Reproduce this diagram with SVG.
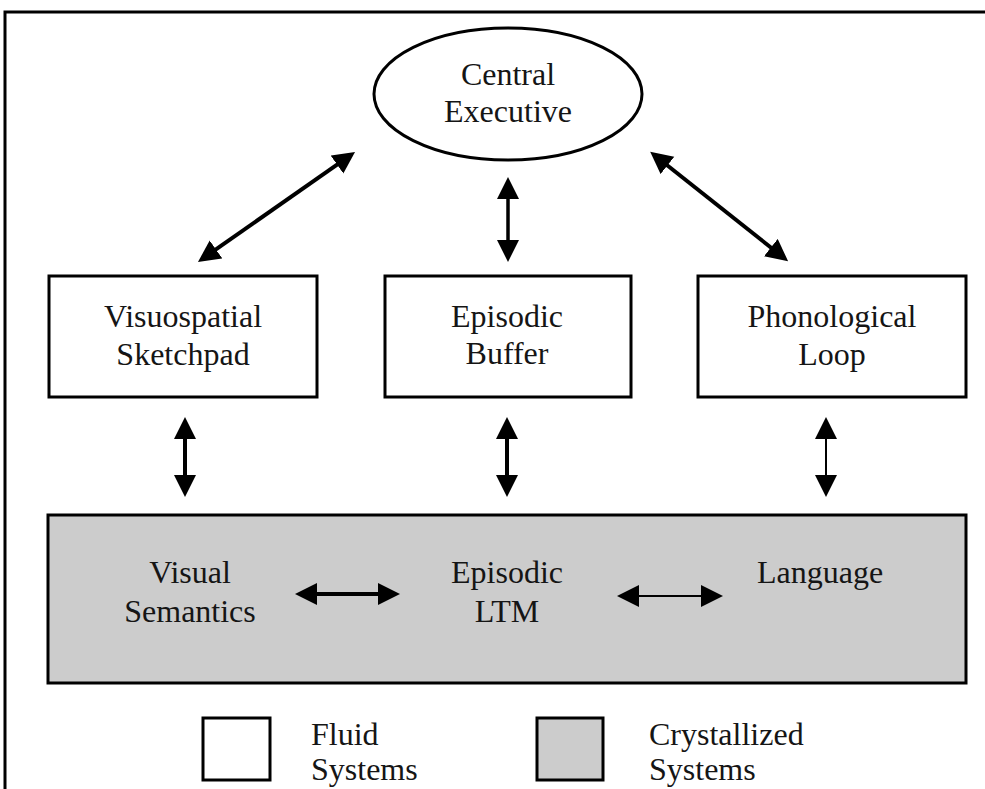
<svg xmlns="http://www.w3.org/2000/svg" width="985" height="789" viewBox="0 0 985 789">
<style>
text{font-family:"Liberation Serif","Times New Roman",serif;font-size:32px;fill:#151515;text-anchor:middle}
.lg{text-anchor:start}
.box{fill:#fff;stroke:#000;stroke-width:3}
.gray{fill:#cccccc;stroke:#000;stroke-width:3}
.c{stroke:#000;fill:none}
</style>
<defs>
<marker id="ah" markerUnits="userSpaceOnUse" markerWidth="24" markerHeight="24" refX="4" refY="11" orient="auto-start-reverse">
<path d="M0,0 L22,11 L0,22 z" fill="#000"/>
</marker>
</defs>
<rect width="985" height="789" fill="#fff"/>
<g id="frame">
<path d="M5,789 L5,12 L985,12" fill="none" stroke="#000" stroke-width="3"/>
</g>
<g id="central-executive">
<ellipse cx="508" cy="94" rx="134" ry="66" fill="#fff" stroke="#000" stroke-width="3"/>
<text x="508" y="85">Central</text>
<text x="508" y="122">Executive</text>
</g>
<g id="visuospatial-sketchpad">
<rect class="box" x="49" y="276" width="268" height="121"/>
<text x="183" y="327">Visuospatial</text>
<text x="183" y="365">Sketchpad</text>
</g>
<g id="episodic-buffer">
<rect class="box" x="385" y="276" width="246" height="121"/>
<text x="507" y="327">Episodic</text>
<text x="507" y="364">Buffer</text>
</g>
<g id="phonological-loop">
<rect class="box" x="698" y="276" width="268" height="121"/>
<text x="832" y="327">Phonological</text>
<text x="832" y="365">Loop</text>
</g>
<g id="crystallized-block">
<rect class="gray" x="48" y="515" width="918" height="168"/>
</g>
<g id="visual-semantics">
<text x="190" y="583">Visual</text>
<text x="190" y="622">Semantics</text>
</g>
<g id="episodic-ltm">
<text x="507" y="583">Episodic</text>
<text x="507" y="622">LTM</text>
</g>
<g id="language">
<text x="820" y="583">Language</text>
</g>
<g id="connectors">
<line class="c" x1="340.3" y1="162.3" x2="212.7" y2="251.7" stroke-width="4" marker-start="url(#ah)" marker-end="url(#ah)"/>
<line class="c" x1="508" y1="195" x2="508" y2="244" stroke-width="3.5" marker-start="url(#ah)" marker-end="url(#ah)"/>
<line class="c" x1="664.3" y1="163" x2="774" y2="250" stroke-width="4" marker-start="url(#ah)" marker-end="url(#ah)"/>
<line class="c" x1="185" y1="435" x2="185" y2="479" stroke-width="4" marker-start="url(#ah)" marker-end="url(#ah)"/>
<line class="c" x1="507" y1="435" x2="507" y2="479" stroke-width="4" marker-start="url(#ah)" marker-end="url(#ah)"/>
<line class="c" x1="826" y1="435" x2="826" y2="479" stroke-width="2" marker-start="url(#ah)" marker-end="url(#ah)"/>
<line class="c" x1="313" y1="594" x2="382" y2="594" stroke-width="4" marker-start="url(#ah)" marker-end="url(#ah)"/>
<line class="c" x1="635" y1="596" x2="705" y2="596" stroke-width="2" marker-start="url(#ah)" marker-end="url(#ah)"/>
</g>
<g id="legend-fluid">
<rect class="box" x="203" y="718" width="67" height="62"/>
<text class="lg" x="311" y="745">Fluid</text>
<text class="lg" x="311" y="780">Systems</text>
</g>
<g id="legend-crystallized">
<rect class="gray" x="537" y="718" width="66" height="62" stroke-width="5"/>
<text class="lg" x="649" y="745">Crystallized</text>
<text class="lg" x="649" y="780">Systems</text>
</g>
</svg>
